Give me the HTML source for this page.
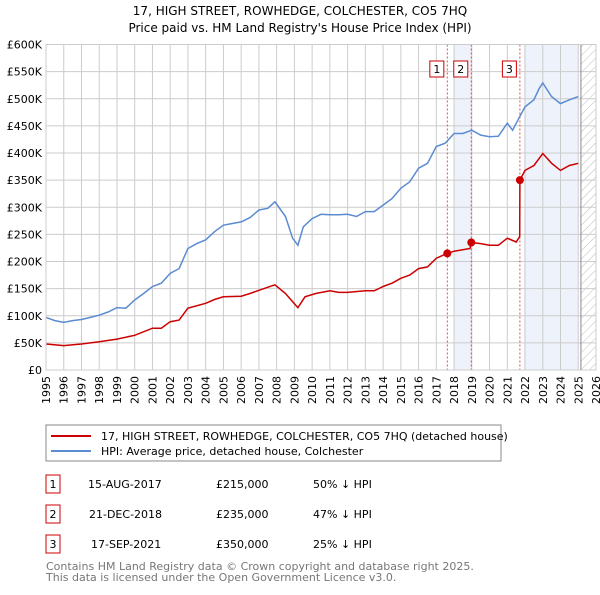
<!DOCTYPE html>
<html><head><meta charset="utf-8"><style>
body{margin:0;background:#fff;width:600px;height:590px;overflow:hidden;font-family:"Liberation Sans","DejaVu Sans",sans-serif}
svg text{font-family:"DejaVu Sans","Liberation Sans",sans-serif}
</style></head><body>
<svg id="chart" width="600" height="590" xmlns="http://www.w3.org/2000/svg">
<text x="300" y="15" text-anchor="middle" font-size="12" fill="#000">17, HIGH STREET, ROWHEDGE, COLCHESTER, CO5 7HQ</text>
<text x="300" y="32" text-anchor="middle" font-size="12" fill="#000">Price paid vs. HM Land Registry's House Price Index (HPI)</text>
<defs><pattern id="hatch" width="6" height="6" patternUnits="userSpaceOnUse" patternTransform="rotate(45)"><line x1="0" y1="0" x2="0" y2="6" stroke="#bbb" stroke-width="1"/></pattern></defs>
<g id="plot"></g>
<rect x="46" y="425" width="455" height="36" fill="#fff" stroke="#888"/>
<line x1="51" y1="436" x2="91" y2="436" stroke="#cc0000" stroke-width="2"/>
<text x="101" y="440" font-size="11">17, HIGH STREET, ROWHEDGE, COLCHESTER, CO5 7HQ (detached house)</text>
<line x1="51" y1="451" x2="91" y2="451" stroke="#5b8bd0" stroke-width="2"/>
<text x="101" y="455" font-size="11">HPI: Average price, detached house, Colchester</text>
<g font-size="11">
<rect x="46" y="475" width="14" height="18" fill="#fff" stroke="#cc0000"/><text x="53" y="488" text-anchor="middle">1</text>
<text x="88" y="488">15-AUG-2017</text><text x="216" y="488">£215,000</text><text x="313" y="488">50% ↓ HPI</text>
<rect x="46" y="505" width="14" height="18" fill="#fff" stroke="#cc0000"/><text x="53" y="518" text-anchor="middle">2</text>
<text x="89" y="518">21-DEC-2018</text><text x="216" y="518">£235,000</text><text x="313" y="518">47% ↓ HPI</text>
<rect x="46" y="535" width="14" height="18" fill="#fff" stroke="#cc0000"/><text x="53" y="548" text-anchor="middle">3</text>
<text x="91" y="548">17-SEP-2021</text><text x="216" y="548">£350,000</text><text x="313" y="548">25% ↓ HPI</text>
</g>
<text x="46" y="570" font-size="11" fill="#777">Contains HM Land Registry data © Crown copyright and database right 2025.</text>
<text x="46" y="581" font-size="11" fill="#777">This data is licensed under the Open Government Licence v3.0.</text>
</svg>
<script>
const yTicks=[0,50,100,150,200,250,300,350,400,450,500,550,600];
const yTickLabels=["£0","£50K","£100K","£150K","£200K","£250K","£300K","£350K","£400K","£450K","£500K","£550K","£600K"];
const years=[1995,1996,1997,1998,1999,2000,2001,2002,2003,2004,2005,2006,2007,2008,2009,2010,2011,2012,2013,2014,2015,2016,2017,2018,2019,2020,2021,2022,2023,2024,2025,2026];
const hpiT=[1995,1995.5,1996,1996.5,1997,1997.5,1998,1998.5,1999,1999.5,2000,2000.5,2001,2001.5,2002,2002.5,2003,2003.5,2004,2004.5,2005,2005.5,2006,2006.5,2007,2007.5,2007.9,2008.5,2008.9,2009.2,2009.5,2010,2010.5,2011,2011.5,2012,2012.5,2013,2013.5,2014,2014.5,2015,2015.5,2016,2016.5,2017,2017.5,2018,2018.5,2019,2019.5,2020,2020.5,2021,2021.3,2021.7,2022,2022.5,2022.8,2023,2023.5,2024,2024.5,2025];
const hpiV=[97,91,88,91,93,97,101,107,115,114,129,141,154,160,178,187,224,233,240,255,267,270,273,281,295,298,310,283,243,230,264,279,287,286,286,287,283,292,292,304,316,335,347,372,381,412,418,436,436,442,433,430,431,455,442,467,485,498,519,529,504,491,498,504];
const priceT=[1995,1996,1997,1998,1999,2000,2001,2001.5,2002,2002.5,2003,2004,2004.5,2005,2006,2006.5,2007,2007.9,2008.5,2009,2009.2,2009.6,2010.2,2011,2011.5,2012,2013,2013.5,2014,2014.5,2015,2015.5,2016,2016.5,2017,2017.62,2018,2018.9,2018.97,2019.5,2020,2020.5,2021,2021.5,2021.7,2021.71,2022,2022.5,2023,2023.5,2024,2024.5,2025];
const priceV=[48,45,48,52,57,64,77,77,89,92,114,123,130,135,136,141,147,157,141,122,115,135,141,146,143,143,146,146,154,160,169,175,187,190,206,215,219,224,235,233,230,230,243,236,246,350,368,377,399,381,368,377,381];
const saleT=[2017.62,2018.97,2021.71];
const saleV=[215,235,350];
const saleLabels=["1","2","3"];
const X0=46,X1=596,Y0=370,Y1=44.5;
const xs=t=>X0+(t-1995)/(2026-1995)*(X1-X0);
const ys=v=>Y0-v/600*(Y0-Y1);
const NS="http://www.w3.org/2000/svg";
const g=document.getElementById('plot');
function mk(tag,at){const e=document.createElementNS(NS,tag);for(const k in at)e.setAttribute(k,at[k]);g.appendChild(e);return e;}
let e;
e=mk('rect',{x:xs(2018),y:Y1,width:xs(2019)-xs(2018),height:Y0-Y1,fill:'#eef3fb'});


e=mk('rect',{x:xs(2021.95),y:Y1,width:xs(2025)-xs(2021.95),height:Y0-Y1,fill:'#eef3fb'});


e=mk('rect',{x:xs(2025.15),y:Y1,width:X1-xs(2025.15),height:Y0-Y1,fill:'url(#hatch)'});


years.forEach(y=>{
 e=mk('line',{x1:xs(y),x2:xs(y),y1:Y1,y2:Y0,stroke:'#ccc','stroke-width':1});
 
 
 e=mk('text',{x:xs(y)+4,y:Y0+6,'font-size':11,'text-anchor':'end',transform:`rotate(-90 ${xs(y)+4} ${Y0+6})`});
 e.textContent=y;
 
 
});
yTicks.forEach((v,i)=>{
 e=mk('line',{x1:X0,x2:X1,y1:ys(v),y2:ys(v),stroke:'#ccc','stroke-width':1});
 
 
 e=mk('text',{x:X0-4,y:ys(v)+4,'font-size':11,'text-anchor':'end'});
 e.textContent=yTickLabels[i];
 
 
});
e=mk('line',{x1:xs(2025.15),x2:xs(2025.15),y1:Y1,y2:Y0,stroke:'#888','stroke-width':1});


saleT.forEach((t,i)=>{
 e=mk('line',{x1:xs(t),x2:xs(t),y1:Y1,y2:Y0,stroke:'#e05050','stroke-width':1,'stroke-dasharray':'2,2'});
 
 
 e=mk('rect',{x:xs(t)-17.5,y:61,width:14,height:16,fill:'#fff',stroke:'#cc0000'});
 
 
 e=mk('text',{x:xs(t)-10.5,y:73,'font-size':11,'text-anchor':'middle'});
 e.textContent=saleLabels[i];
 
 
});
e=mk('path',{d:hpiT.map((t,i)=>(i?'L':'M')+xs(t).toFixed(1)+','+ys(hpiV[i]).toFixed(1)).join(''),fill:'none',stroke:'#5b8bd0','stroke-width':1.5});


e=mk('path',{d:priceT.map((t,i)=>(i?'L':'M')+xs(t).toFixed(1)+','+ys(priceV[i]).toFixed(1)).join(''),fill:'none',stroke:'#cc0000','stroke-width':1.5});


saleT.forEach((t,i)=>{
 e=mk('circle',{cx:xs(t),cy:ys(saleV[i]),r:4,fill:'#cc0000'});
 
 
});
e=mk('rect',{x:X0,y:Y1,width:X1-X0,height:Y0-Y1,fill:'none',stroke:'#ccc'});


</script>
</body></html>
